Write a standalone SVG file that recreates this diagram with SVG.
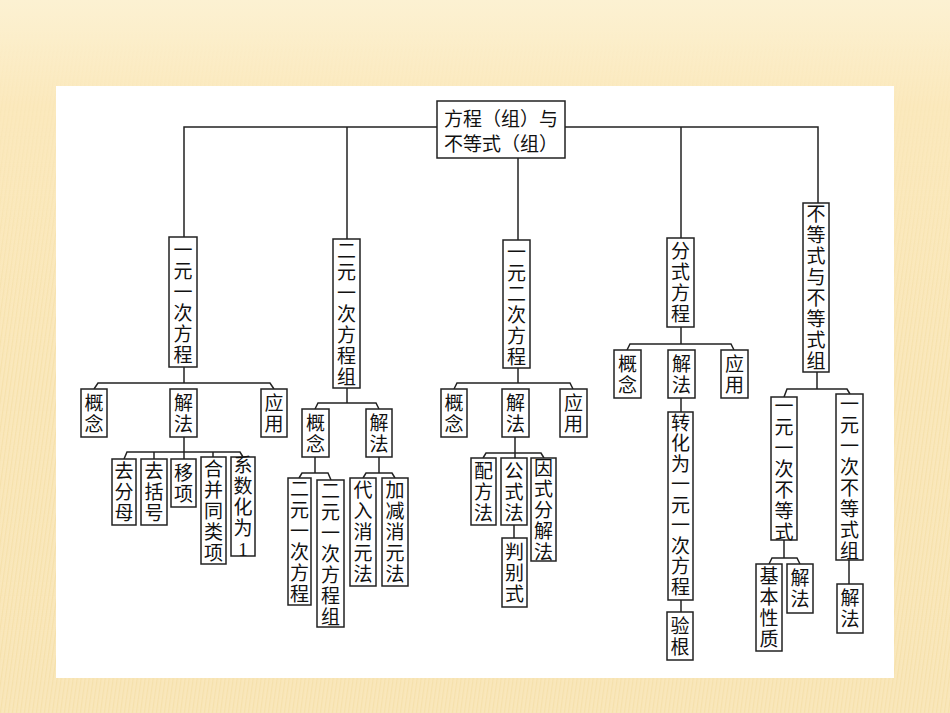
<svg xmlns="http://www.w3.org/2000/svg" width="950" height="713" viewBox="0 0 950 713">
<defs>
<linearGradient id="bg" x1="0" y1="0" x2="0" y2="1"><stop offset="0" stop-color="#fcf1d2"/><stop offset="0.15" stop-color="#fbe9bd"/><stop offset="1" stop-color="#f9e7bb"/></linearGradient>
<pattern id="st" width="4" height="10" patternUnits="userSpaceOnUse" patternTransform="skewX(-8)"><rect width="4" height="10" fill="none"/><rect width="1.2" height="10" fill="#f3dca0" opacity="0.6"/></pattern>
<linearGradient id="fade" x1="0" y1="0" x2="0" y2="1"><stop offset="0" stop-color="#fff" stop-opacity="0"/><stop offset="0.5" stop-color="#fff" stop-opacity="1"/></linearGradient>
<mask id="m"><rect x="0" y="30" width="950" height="683" fill="url(#fade)"/></mask>
</defs>
<style>
rect.n{fill:#fff;stroke:#222;stroke-width:1.5}
text{font-family:"Noto Sans CJK SC","Noto Sans CJK JP",sans-serif;font-size:19px;fill:#111;text-anchor:middle}
#connectors{fill:none;stroke:#222;stroke-width:1.5}
</style>
<rect width="950" height="713" fill="url(#bg)"/>
<rect width="950" height="713" fill="url(#st)" mask="url(#m)"/>
<rect x="56" y="86" width="838" height="592" fill="#fff"/>
<g id="connectors">
<polyline points="184,237 184,127 818,127 818,203"/>
<line x1="347" y1="127" x2="347" y2="239"/><line x1="681" y1="127" x2="681" y2="238"/><line x1="518" y1="157" x2="518" y2="240"/>
<line x1="184" y1="367" x2="184" y2="383"/><polyline points="94,389 98,383 270,383 274,389"/>
<line x1="184" y1="437" x2="184" y2="459"/><polyline points="124,459 127,452 240,452 243,457"/>
<line x1="154" y1="452" x2="154" y2="459"/><line x1="213" y1="452" x2="213" y2="457"/>
<line x1="347" y1="388" x2="347" y2="403"/><polyline points="315,409 318,403 376,403 379,409"/>
<line x1="315" y1="457" x2="315" y2="473"/><polyline points="299,478 302,473 328,473 331,480"/>
<line x1="379" y1="457" x2="379" y2="473"/><polyline points="363,478 366,473 392,473 395,478"/>
<line x1="518" y1="368" x2="518" y2="383"/><polyline points="454,389 457,383 570,383 573,389"/>
<line x1="515" y1="437" x2="515" y2="458"/><polyline points="483,458 486,453 541,453 544,458"/>
<line x1="514" y1="525" x2="514" y2="538"/>
<line x1="681" y1="327" x2="681" y2="344"/><polyline points="627,350 630,344 731,344 734,350"/>
<line x1="681" y1="398" x2="681" y2="412"/><line x1="681" y1="600" x2="681" y2="612"/>
<line x1="817" y1="372" x2="817" y2="389"/><polyline points="784,397 787,389 847,389 850,394"/>
<line x1="784" y1="540" x2="784" y2="558"/><polyline points="769,564 772,558 797,558 800,564"/>
<line x1="849" y1="560" x2="849" y2="584"/>
</g>
<g id="root"><rect class="n" x="437" y="101" width="128" height="57"/><text x="501" y="126">方程（组）与</text><text x="501" y="151">不等式（组）</text></g>
<g id="n1"><rect class="n" x="169" y="237" width="28" height="130"/><text y="256.5"><tspan x="183" dy="0">一</tspan><tspan x="183" dy="21">元</tspan><tspan x="183" dy="21">一</tspan><tspan x="183" dy="21">次</tspan><tspan x="183" dy="21">方</tspan><tspan x="183" dy="21">程</tspan></text></g>
<g id="n1a"><rect class="n" x="81" y="389" width="26" height="48"/><text y="409.5"><tspan x="94">概</tspan><tspan x="94" dy="21">念</tspan></text></g>
<g id="n1b"><rect class="n" x="170" y="389" width="27" height="48"/><text y="409.5"><tspan x="183.5">解</tspan><tspan x="183.5" dy="21">法</tspan></text></g>
<g id="n1c"><rect class="n" x="261" y="389" width="26" height="48"/><text y="409.5"><tspan x="274">应</tspan><tspan x="274" dy="21">用</tspan></text></g>
<g id="n1b1"><rect class="n" x="112" y="459" width="24" height="66"/><text y="478"><tspan x="124">去</tspan><tspan x="124" dy="21">分</tspan><tspan x="124" dy="21">母</tspan></text></g>
<g id="n1b2"><rect class="n" x="141" y="459" width="26" height="66"/><text y="478"><tspan x="154">去</tspan><tspan x="154" dy="21">括</tspan><tspan x="154" dy="21">号</tspan></text></g>
<g id="n1b3"><rect class="n" x="171" y="459" width="25" height="48"/><text y="479.5"><tspan x="183.5">移</tspan><tspan x="183.5" dy="21">项</tspan></text></g>
<g id="n1b4"><rect class="n" x="201" y="457" width="25" height="107"/><text y="475.5"><tspan x="213.5">合</tspan><tspan x="213.5" dy="21">并</tspan><tspan x="213.5" dy="21">同</tspan><tspan x="213.5" dy="21">类</tspan><tspan x="213.5" dy="21">项</tspan></text></g>
<g id="n1b5"><rect class="n" x="231" y="457" width="24" height="99"/><text y="471.5"><tspan x="243">系</tspan><tspan x="243" dy="21">数</tspan><tspan x="243" dy="21">化</tspan><tspan x="243" dy="21">为</tspan><tspan x="243" dy="21" font-family="Liberation Serif">1</tspan></text></g>
<g id="n2"><rect class="n" x="333" y="239" width="27" height="149"/><text y="257.5"><tspan x="346.5">二</tspan><tspan x="346.5" dy="21">元</tspan><tspan x="346.5" dy="21">一</tspan><tspan x="346.5" dy="21">次</tspan><tspan x="346.5" dy="21">方</tspan><tspan x="346.5" dy="21">程</tspan><tspan x="346.5" dy="21">组</tspan></text></g>
<g id="n2a"><rect class="n" x="302" y="409" width="27" height="48"/><text y="429.5"><tspan x="315.5">概</tspan><tspan x="315.5" dy="21">念</tspan></text></g>
<g id="n2b"><rect class="n" x="366" y="409" width="26" height="48"/><text y="429.5"><tspan x="379">解</tspan><tspan x="379" dy="21">法</tspan></text></g>
<g id="n2a1"><rect class="n" x="288" y="478" width="23" height="127"/><text y="496"><tspan x="299.5">二</tspan><tspan x="299.5" dy="21">元</tspan><tspan x="299.5" dy="21">一</tspan><tspan x="299.5" dy="21">次</tspan><tspan x="299.5" dy="21">方</tspan><tspan x="299.5" dy="21">程</tspan></text></g>
<g id="n2a2"><rect class="n" x="317" y="480" width="27" height="147"/><text y="497.5"><tspan x="330.5">二</tspan><tspan x="330.5" dy="21">元</tspan><tspan x="330.5" dy="21">一</tspan><tspan x="330.5" dy="21">次</tspan><tspan x="330.5" dy="21">方</tspan><tspan x="330.5" dy="21">程</tspan><tspan x="330.5" dy="21">组</tspan></text></g>
<g id="n2b1"><rect class="n" x="350" y="478" width="26" height="108"/><text y="497"><tspan x="363">代</tspan><tspan x="363" dy="21">入</tspan><tspan x="363" dy="21">消</tspan><tspan x="363" dy="21">元</tspan><tspan x="363" dy="21">法</tspan></text></g>
<g id="n2b2"><rect class="n" x="382" y="478" width="26" height="108"/><text y="497"><tspan x="395">加</tspan><tspan x="395" dy="21">减</tspan><tspan x="395" dy="21">消</tspan><tspan x="395" dy="21">元</tspan><tspan x="395" dy="21">法</tspan></text></g>
<g id="n3"><rect class="n" x="503" y="240" width="27" height="128"/><text y="258.5"><tspan x="516.5">一</tspan><tspan x="516.5" dy="21">元</tspan><tspan x="516.5" dy="21">二</tspan><tspan x="516.5" dy="21">次</tspan><tspan x="516.5" dy="21">方</tspan><tspan x="516.5" dy="21">程</tspan></text></g>
<g id="n3a"><rect class="n" x="441" y="389" width="26" height="48"/><text y="409.5"><tspan x="454">概</tspan><tspan x="454" dy="21">念</tspan></text></g>
<g id="n3b"><rect class="n" x="502" y="389" width="27" height="48"/><text y="409.5"><tspan x="515.5">解</tspan><tspan x="515.5" dy="21">法</tspan></text></g>
<g id="n3c"><rect class="n" x="560" y="389" width="27" height="48"/><text y="409.5"><tspan x="573.5">应</tspan><tspan x="573.5" dy="21">用</tspan></text></g>
<g id="n3b1"><rect class="n" x="471" y="458" width="25" height="67"/><text y="477.5"><tspan x="483.5">配</tspan><tspan x="483.5" dy="21">方</tspan><tspan x="483.5" dy="21">法</tspan></text></g>
<g id="n3b2"><rect class="n" x="501" y="458" width="26" height="67"/><text y="477.5"><tspan x="514">公</tspan><tspan x="514" dy="21">式</tspan><tspan x="514" dy="21">法</tspan></text></g>
<g id="n3b3"><rect class="n" x="531" y="458" width="25" height="103"/><text y="474.5"><tspan x="543.5">因</tspan><tspan x="543.5" dy="21">式</tspan><tspan x="543.5" dy="21">分</tspan><tspan x="543.5" dy="21">解</tspan><tspan x="543.5" dy="21">法</tspan></text></g>
<g id="n3b2a"><rect class="n" x="502" y="538" width="25" height="69"/><text y="558.5"><tspan x="514.5">判</tspan><tspan x="514.5" dy="21">别</tspan><tspan x="514.5" dy="21">式</tspan></text></g>
<g id="n4"><rect class="n" x="667" y="238" width="27" height="89"/><text y="258"><tspan x="680.5">分</tspan><tspan x="680.5" dy="21">式</tspan><tspan x="680.5" dy="21">方</tspan><tspan x="680.5" dy="21">程</tspan></text></g>
<g id="n4a"><rect class="n" x="614" y="350" width="27" height="48"/><text y="370.5"><tspan x="627.5">概</tspan><tspan x="627.5" dy="21">念</tspan></text></g>
<g id="n4b"><rect class="n" x="668" y="350" width="27" height="48"/><text y="370.5"><tspan x="681.5">解</tspan><tspan x="681.5" dy="21">法</tspan></text></g>
<g id="n4c"><rect class="n" x="721" y="350" width="27" height="48"/><text y="370.5"><tspan x="734.5">应</tspan><tspan x="734.5" dy="21">用</tspan></text></g>
<g id="n4b1"><rect class="n" x="668" y="412" width="25" height="188"/><text y="429.5"><tspan x="680.5">转</tspan><tspan x="680.5" dy="20.5">化</tspan><tspan x="680.5" dy="20.5">为</tspan><tspan x="680.5" dy="20.5">一</tspan><tspan x="680.5" dy="20.5">元</tspan><tspan x="680.5" dy="20.5">一</tspan><tspan x="680.5" dy="20.5">次</tspan><tspan x="680.5" dy="20.5">方</tspan><tspan x="680.5" dy="20.5">程</tspan></text></g>
<g id="n4b2"><rect class="n" x="667" y="612" width="26" height="48"/><text y="632.5"><tspan x="680">验</tspan><tspan x="680" dy="21">根</tspan></text></g>
<g id="n5"><rect class="n" x="803" y="203" width="26" height="169"/><text y="221"><tspan x="816">不</tspan><tspan x="816" dy="21">等</tspan><tspan x="816" dy="21">式</tspan><tspan x="816" dy="21">与</tspan><tspan x="816" dy="21">不</tspan><tspan x="816" dy="21">等</tspan><tspan x="816" dy="21">式</tspan><tspan x="816" dy="21">组</tspan></text></g>
<g id="n5a"><rect class="n" x="771" y="397" width="26" height="143"/><text y="412.5"><tspan x="784">一</tspan><tspan x="784" dy="21">元</tspan><tspan x="784" dy="21">一</tspan><tspan x="784" dy="21">次</tspan><tspan x="784" dy="21">不</tspan><tspan x="784" dy="21">等</tspan><tspan x="784" dy="21">式</tspan></text></g>
<g id="n5b"><rect class="n" x="836" y="394" width="27" height="166"/><text y="410.5"><tspan x="849.5">一</tspan><tspan x="849.5" dy="21">元</tspan><tspan x="849.5" dy="21">一</tspan><tspan x="849.5" dy="21">次</tspan><tspan x="849.5" dy="21">不</tspan><tspan x="849.5" dy="21">等</tspan><tspan x="849.5" dy="21">式</tspan><tspan x="849.5" dy="21">组</tspan></text></g>
<g id="n5a1"><rect class="n" x="756" y="564" width="26" height="87"/><text y="583"><tspan x="769">基</tspan><tspan x="769" dy="21">本</tspan><tspan x="769" dy="21">性</tspan><tspan x="769" dy="21">质</tspan></text></g>
<g id="n5a2"><rect class="n" x="787" y="564" width="26" height="49"/><text y="585"><tspan x="800">解</tspan><tspan x="800" dy="21">法</tspan></text></g>
<g id="n5b1"><rect class="n" x="837" y="584" width="26" height="49"/><text y="605"><tspan x="850">解</tspan><tspan x="850" dy="21">法</tspan></text></g>
</svg>
